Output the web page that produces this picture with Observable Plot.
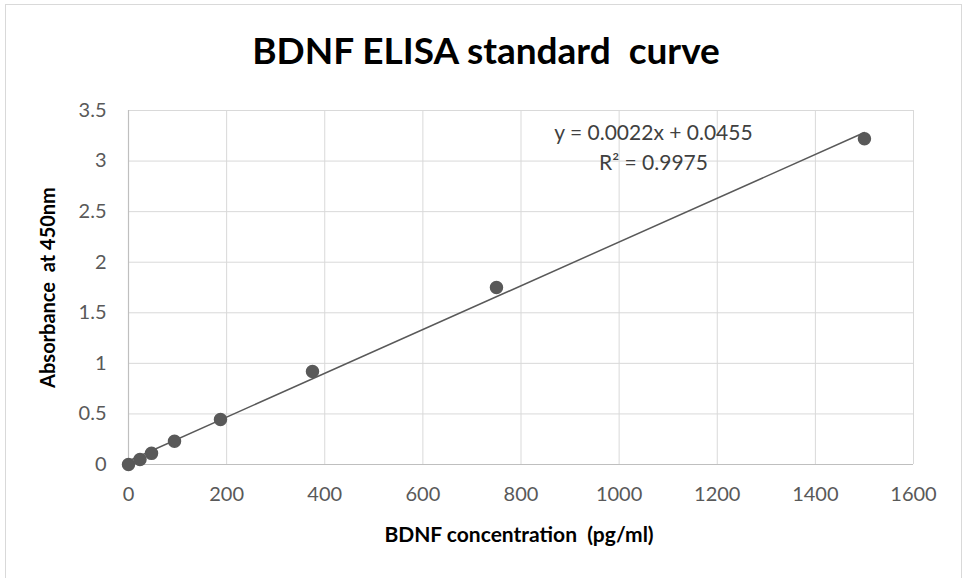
<!DOCTYPE html>
<html>
<head>
<meta charset="utf-8">
<script src="https://cdn.jsdelivr.net/npm/d3@7"></script>
<script src="https://cdn.jsdelivr.net/npm/@observablehq/plot@0.6"></script>
<style>
  html, body { margin: 0; padding: 0; background: #fff; }
  #wrap { position: relative; width: 965px; height: 578px; overflow: hidden; }
  #border { position: absolute; left: 5px; top: 4px; width: 957px; height: 600px; border: 1px solid #d9d9d9; box-sizing: border-box; }
  #chart { position: absolute; left: 0; top: 0; }
</style>
</head>
<body>
<div id="wrap"><div id="border"></div><div id="chart"></div></div>
<script>
const titleText = "BDNF ELISA standard  curve";
const xLabel = "BDNF concentration  (pg/ml)";
const yLabel = "Absorbance  at 450nm";
const concentration = [0, 23.4, 46.9, 93.75, 187.5, 375, 750, 1500];
const absorbance = [0.0, 0.05, 0.11, 0.23, 0.445, 0.92, 1.75, 3.22];
const xTicks = [0, 200, 400, 600, 800, 1000, 1200, 1400, 1600];
const yTicks = [0, 0.5, 1, 1.5, 2, 2.5, 3, 3.5];
const equationLines = ["y = 0.0022x + 0.0455", "R² = 0.9975"];
const equationAnchor = [{x: 1070, y: 3.27}, {x: 1070, y: 2.98}];

const data = concentration.map((c, i) => ({x: c, y: absorbance[i]}));
const FONT = "Lato, 'Open Sans', sans-serif";

const plot = Plot.plot({
  width: 965,
  height: 578,
  marginLeft: 128,
  marginRight: 52,
  marginTop: 110,
  marginBottom: 114,
  style: {fontFamily: FONT, fontSize: "20px", color: "#595959", background: "transparent"},
  x: {domain: [0, 1600], label: null},
  y: {domain: [0, 3.5], label: null},
  marks: [
    Plot.gridX(xTicks, {stroke: "#d9d9d9", strokeOpacity: 1, strokeWidth: 1}),
    Plot.gridY(yTicks, {stroke: "#d9d9d9", strokeOpacity: 1, strokeWidth: 1}),
    Plot.ruleY([0], {stroke: "#bfbfbf", strokeWidth: 1.2}),
    Plot.ruleX([0], {stroke: "#bfbfbf", strokeWidth: 1.2}),
    Plot.axisX({ticks: xTicks, tickSize: 0, tickPadding: 22, tickFormat: d => String(d), label: null, fill: "#595959", fontSize: 20}),
    Plot.axisY({ticks: yTicks, tickSize: 0, tickPadding: 22, tickFormat: d => String(d), label: null, fill: "#595959", fontSize: 20}),
    Plot.linearRegressionY(data, {x: "x", y: "y", ci: 0, stroke: "#595959", strokeWidth: 1.5}),
    Plot.dot(data, {x: "x", y: "y", r: 6, fill: "#595959", stroke: "#595959"}),
    Plot.text(equationLines, {x: (d, i) => equationAnchor[i].x, y: (d, i) => equationAnchor[i].y, text: d => d, fontSize: 21, fill: "#404040"}),
    Plot.text([titleText], {frameAnchor: "top", lineAnchor: "middle", dy: -58, dx: -35, fontSize: 37, fontWeight: "bold", fill: "#000"}),
    Plot.text([xLabel], {frameAnchor: "bottom", lineAnchor: "middle", dy: 71, dx: -2, fontSize: 21, fontWeight: "bold", fill: "#000"}),
    Plot.text([yLabel], {frameAnchor: "left", textAnchor: "middle", lineAnchor: "middle", dx: -80, dy: 0, rotate: -90, fontSize: 20, fontWeight: "bold", fill: "#000"})
  ]
});
document.getElementById("chart").appendChild(plot);
</script>
</body>
</html>
